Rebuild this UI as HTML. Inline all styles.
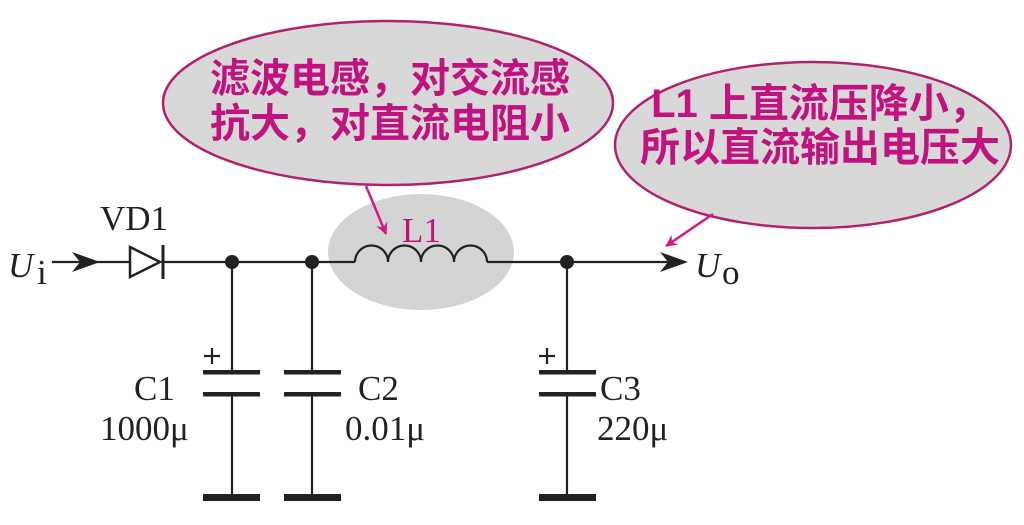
<!DOCTYPE html>
<html><head><meta charset="utf-8"><style>
html,body{margin:0;padding:0;background:#fff;width:1024px;height:525px;overflow:hidden}
svg{display:block}
.cjk{font-family:"Liberation Sans","Noto Sans CJK SC",sans-serif;font-weight:bold;fill:#c0137f;font-size:40px}
.lab{font-family:"Liberation Serif",serif;fill:#222;font-size:35px}
</style></head><body>
<svg width="1024" height="525" viewBox="0 0 1024 525" xmlns="http://www.w3.org/2000/svg">
<defs>
<marker id="pa" markerWidth="12" markerHeight="12" refX="11" refY="6" orient="auto" markerUnits="userSpaceOnUse">
<path d="M0,0 L12,6 L0,12 L4,6 Z" fill="#d01a86"/></marker>
</defs>
<ellipse cx="388" cy="103" rx="225" ry="82" fill="#d8d8d8" stroke="#b0226f" stroke-width="2.5"/>
<ellipse cx="813" cy="145" rx="198" ry="83" fill="#d8d8d8" stroke="#b0226f" stroke-width="2.5"/>
<text class="cjk" x="390" y="92" text-anchor="middle">滤波电感，对交流感</text>
<text class="cjk" x="390" y="137" text-anchor="middle">抗大，对直流电阻小</text>
<text class="cjk" x="820" y="117" text-anchor="middle">L1 上直流压降小，</text>
<text class="cjk" x="820" y="161" text-anchor="middle">所以直流输出电压大</text>
<ellipse cx="421" cy="252" rx="93" ry="58" fill="#d4d4d4"/>
<line x1="366" y1="186" x2="386" y2="234" stroke="#d01a86" stroke-width="2.5" marker-end="url(#pa)"/>
<line x1="713" y1="214" x2="666" y2="246" stroke="#d01a86" stroke-width="2.5" marker-end="url(#pa)"/>
<text x="402" y="242" font-family="Liberation Serif,serif" font-size="35" fill="#c0137f">L1</text>
<g stroke="#222" stroke-width="2.2" fill="none">
<line x1="52" y1="262" x2="130" y2="262"/>
<line x1="163" y1="262" x2="355" y2="262"/>
<path d="M355,262 a16.5,16.5 0 0 1 33,0 a16.5,16.5 0 0 1 33,0 a16.5,16.5 0 0 1 33,0 a16.5,16.5 0 0 1 33,0"/>
<line x1="487" y1="262" x2="675" y2="262"/>
<polygon points="130,247 130,277 160,262" stroke-width="2.5"/>
<line x1="163" y1="245" x2="163" y2="279" stroke-width="3"/>
<line x1="232" y1="262" x2="232" y2="372"/>
<line x1="232" y1="394" x2="232" y2="497"/>
<line x1="312" y1="262" x2="312" y2="372"/>
<line x1="312" y1="394" x2="312" y2="497"/>
<line x1="567" y1="262" x2="567" y2="372"/>
<line x1="567" y1="394" x2="567" y2="497"/>
</g>
<path d="M100,262 L72,252 L80,262 L72,272 Z" fill="#222"/>
<path d="M688,262 L660,252 L668,262 L660,272 Z" fill="#222"/>
<g fill="#222">
<circle cx="232" cy="262" r="7"/><circle cx="312" cy="262" r="7"/><circle cx="567" cy="262" r="7"/>
<rect x="203" y="370" width="57" height="4.5"/><rect x="203" y="392" width="57" height="4.5"/>
<rect x="284" y="370" width="57" height="4.5"/><rect x="284" y="392" width="57" height="4.5"/>
<rect x="539" y="370" width="57" height="4.5"/><rect x="539" y="392" width="57" height="4.5"/>
<rect x="203" y="494" width="57" height="7"/><rect x="284" y="494" width="57" height="7"/><rect x="539" y="494" width="57" height="7"/>
</g>
<g stroke="#222" stroke-width="2.2">
<line x1="204" y1="356" x2="220" y2="356"/><line x1="212" y1="348" x2="212" y2="364"/>
<line x1="539" y1="356" x2="555" y2="356"/><line x1="547" y1="348" x2="547" y2="364"/>
</g>
<text class="lab" x="100" y="230">VD1</text>
<text class="lab" x="8" y="277" font-style="italic" font-size="38">U</text>
<text class="lab" x="37" y="284" font-size="24">i</text>
<text class="lab" x="695" y="277" font-style="italic" font-size="38">U</text>
<text class="lab" x="722" y="284" font-size="24">o</text>
<text class="lab" x="134" y="400">C1</text>
<text class="lab" x="100" y="440">1000μ</text>
<text class="lab" x="358" y="400">C2</text>
<text class="lab" x="345" y="440">0.01μ</text>
<text class="lab" x="600" y="400">C3</text>
<text class="lab" x="597" y="440">220μ</text>
</svg>
</body></html>
